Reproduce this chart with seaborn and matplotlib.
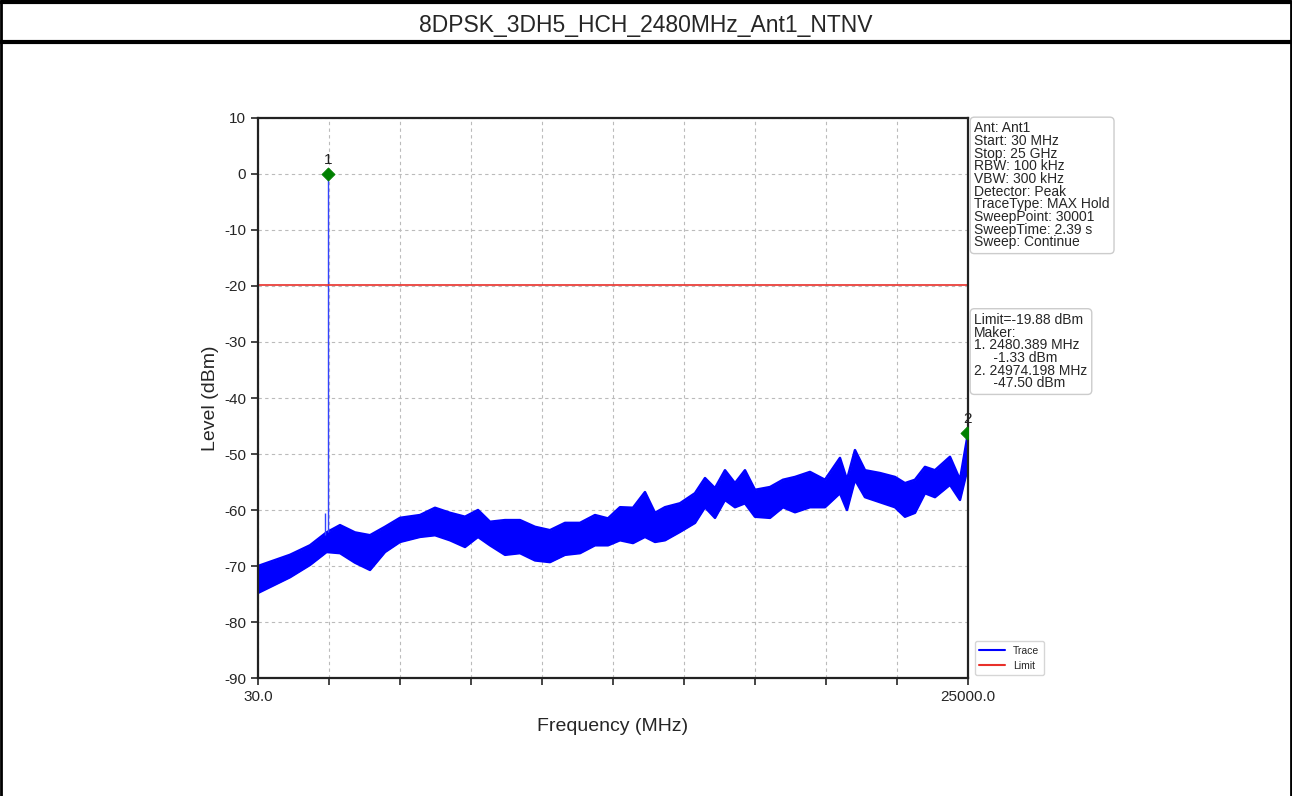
import numpy as np
import pandas as pd
import matplotlib
matplotlib.use("Agg")
import matplotlib.pyplot as plt
import seaborn as sns
from matplotlib.lines import Line2D

title = "8DPSK_3DH5_HCH_2480MHz_Ant1_NTNV"

# trace envelope (MHz, dBm)
freq = [30, 1155, 1859, 2440, 2914, 3441, 3969, 4496, 5024, 5727, 6255, 6782,
        7310, 7767, 8189, 8717, 9244, 9772, 10299, 10827, 11354, 11882, 12339,
        12761, 13218, 13640, 13992, 14344, 14871, 15399, 15751, 16102, 16454,
        16806, 17157, 17509, 18037, 18494, 18916, 19443, 19971, 20498, 20744,
        21026, 21378, 21905, 22433, 22784, 23136, 23488, 23839, 24367, 24719, 25000]
upper = [-70.0, -68.0, -66.3, -64.0, -62.7, -64.0, -64.5, -63.0, -61.4, -60.9, -59.6, -60.5,
         -61.2, -60.0, -62.1, -61.8, -61.8, -63.0, -63.6, -62.3, -62.3, -60.9, -61.5,
         -59.5, -59.6, -56.8, -60.5, -59.5, -58.8, -57.0, -54.3, -56.1, -52.9,
         -55.2, -52.9, -56.4, -55.9, -54.6, -54.1, -53.2, -54.6, -50.7, -54.6,
         -49.3, -52.9, -53.4, -54.1, -55.2, -54.6, -52.3, -52.9, -50.5, -54.6, -46.3]
lower = [-74.8, -72.0, -69.8, -67.5, -67.7, -69.4, -70.7, -67.5, -65.7, -64.8, -64.5, -65.4,
         -66.6, -64.8, -66.3, -68.0, -67.7, -69.0, -69.3, -68.0, -67.7, -66.3, -66.3,
         -65.4, -65.9, -64.8, -65.7, -65.4, -63.9, -62.3, -59.5, -61.4, -58.2,
         -59.5, -58.8, -61.2, -61.4, -59.5, -60.4, -59.5, -59.5, -57.0, -60.0,
         -54.6, -57.7, -58.6, -59.5, -61.2, -60.5, -57.0, -57.7, -55.5, -58.2, -52.3]

# carrier spike and small side spike
spike_freq = [2480.389, 2386]
spike_base = [-64.0, -64.5]
spike_top = [0.0, -60.5]

limit = -19.88
marker_freq = [2480.389, 24974.198]
marker_level = [0.0, -46.2]
marker_names = ["1", "2"]

info_text = ("Ant: Ant1\nStart: 30 MHz\nStop: 25 GHz\nRBW: 100 kHz\nVBW: 300 kHz\n"
             "Detector: Peak\nTraceType: MAX Hold\nSweepPoint: 30001\n"
             "SweepTime: 2.39 s\nSweep: Continue")
marker_text = ("Limit=-19.88 dBm\nMaker:\n1. 2480.389 MHz\n     -1.33 dBm\n"
               "2. 24974.198 MHz\n     -47.50 dBm")

sns.set_style("ticks")
plt.rcParams['font.family'] = ['Liberation Sans', 'DejaVu Sans']
plt.rcParams['axes.unicode_minus'] = False

fig = plt.figure(figsize=(12.92, 7.96), dpi=100)
ax = fig.add_axes([0.1997, 0.1482, 0.5495, 0.7036])

df = pd.DataFrame({'freq': freq, 'upper': upper, 'lower': lower})
ax.fill_between(df['freq'], df['lower'], df['upper'], color='#0000ff', linewidth=0)
sns.lineplot(data=df, x='freq', y='upper', ax=ax, color='#0000ff', linewidth=1.8)
sns.lineplot(data=df, x='freq', y='lower', ax=ax, color='#0000ff', linewidth=1.8)
ax.vlines(spike_freq, spike_base, spike_top, color='#3344ff', linewidth=1.0)

ax.axhline(limit, color='#e8302a', linewidth=1.2)

sns.scatterplot(x=marker_freq, y=marker_level, ax=ax, marker='D', s=45,
                color='green', edgecolor='green', zorder=5)
for f, l, n in zip(marker_freq, marker_level, marker_names):
    ax.annotate(n, (f, l), xytext=(0, 5), textcoords='offset points',
                ha='center', va='bottom', fontsize=11, color='#222222')

ax.set_xlim(30, 25000)
ax.set_ylim(-90, 10)
xt = np.linspace(30, 25000, 11)
ax.set_xticks(xt)
ax.set_xticklabels(["30.0"] + [""] * 9 + ["25000.0"], fontsize=11)
ax.set_yticks(range(-90, 11, 10))
ax.tick_params(axis='y', labelsize=11, length=5, width=1.2)
ax.tick_params(axis='x', length=5, width=1.2)
ax.grid(True, linestyle=(0, (3, 3)), color='#bbbbbb', linewidth=0.8)
for s in ax.spines.values():
    s.set_linewidth(1.6)
    s.set_color('#222222')
    s.set_visible(True)

ax.set_xlabel("Frequency (MHz)", fontsize=14, labelpad=10)
ax.set_ylabel("Level (dBm)", fontsize=14, labelpad=4)

box = dict(boxstyle='round,pad=0.3', facecolor='white', edgecolor='#cccccc', linewidth=1)
ax.text(1.009, 0.994, info_text, transform=ax.transAxes, va='top', ha='left',
        fontsize=10, linespacing=0.88, bbox=box)
ax.text(1.009, 0.652, marker_text, transform=ax.transAxes, va='top', ha='left',
        fontsize=10, linespacing=0.88, bbox=box)

handles = [Line2D([], [], color='#0000ff', linewidth=1.5),
           Line2D([], [], color='#e8302a', linewidth=1.5)]
ax.legend(handles, ["Trace", "Limit"], loc='lower left', bbox_to_anchor=(1.005, 0.0),
          fontsize=7.5, frameon=True, handlelength=2.5, borderaxespad=0.3)

# page frame and title row
for xs, ys, lw in [([0.001, 0.999], [0.998, 0.998], 3),
                   ([0.001, 0.001], [0.0, 0.998], 2),
                   ([0.999, 0.999], [0.0, 0.998], 2),
                   ([0.001, 0.999], [0.947, 0.947], 3)]:
    fig.add_artist(Line2D(xs, ys, color='black', linewidth=lw, transform=fig.transFigure))
fig.text(0.5, 0.968, title, ha='center', va='center', fontsize=16.5)

fig.savefig("out.png", dpi=100)
